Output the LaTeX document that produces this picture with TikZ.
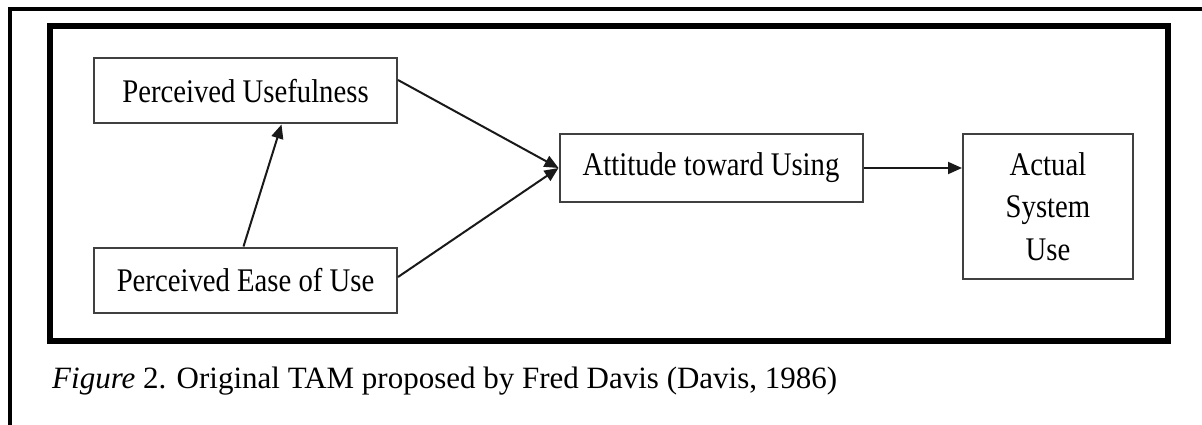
\documentclass[tikz,border=0pt]{standalone}
\usepackage{fontspec}
\setmainfont{Liberation Serif}[FakeStretch=0.87]
\newfontfamily\tamcapfamily{Liberation Serif}
\usetikzlibrary{arrows.meta}
\newcommand{\tamboxw}{303pt}
\newcommand{\tamboxh}{65pt}
\newcommand{\tamfont}{\fontsize{33}{42.5}\selectfont}
\newcommand{\tamcapfont}{\tamcapfamily\fontsize{31}{36}\selectfont}

\begin{document}
\begin{tikzpicture}[x=1pt,y=-1pt,
    tambox/.style={draw=black!75,line width=2pt,minimum width=\tamboxw,
      minimum height=\tamboxh,inner sep=0pt,font=\tamfont,align=center},
    tamarrow/.style={draw=black!90,line width=2pt,
      -{Triangle[length=14pt,width=12pt]}}]
    \useasboundingbox (0,0) rectangle (1202,425);
    \draw[line width=3.5pt] (1202,9) -- (10,9) -- (10,425);
    \draw[line width=6pt] (50,26) rectangle (1168,341);

    \node (pu) at (245.5,91) [tambox] {Perceived Usefulness};
    \node (peu) at (245.5,280) [tambox] {Perceived Ease of Use};
    \node (atu) at (711,168) [tambox,minimum height=68pt] {Attitude toward Using};
    \node (asu) at (1048,206.5) [tambox,minimum width=170pt,
      minimum height=145pt] {Actual\\System\\Use};

    \node (caption) at (52,388) [anchor=base west,inner sep=0pt,
      font=\tamcapfont] {\textit{Figure} 2. Original TAM proposed by Fred Davis (Davis, 1986)};

    \draw[tamarrow] ([xshift=-2pt]peu.north) -- ([xshift=36pt]pu.south);
    \draw[tamarrow] ([yshift=11pt]pu.east) -- (atu.west);
    \draw[tamarrow] ([yshift=3pt]peu.east) -- (atu.west);
    \draw[tamarrow] (atu.east) -- (atu.east -| asu.west);
\end{tikzpicture}
\end{document}
